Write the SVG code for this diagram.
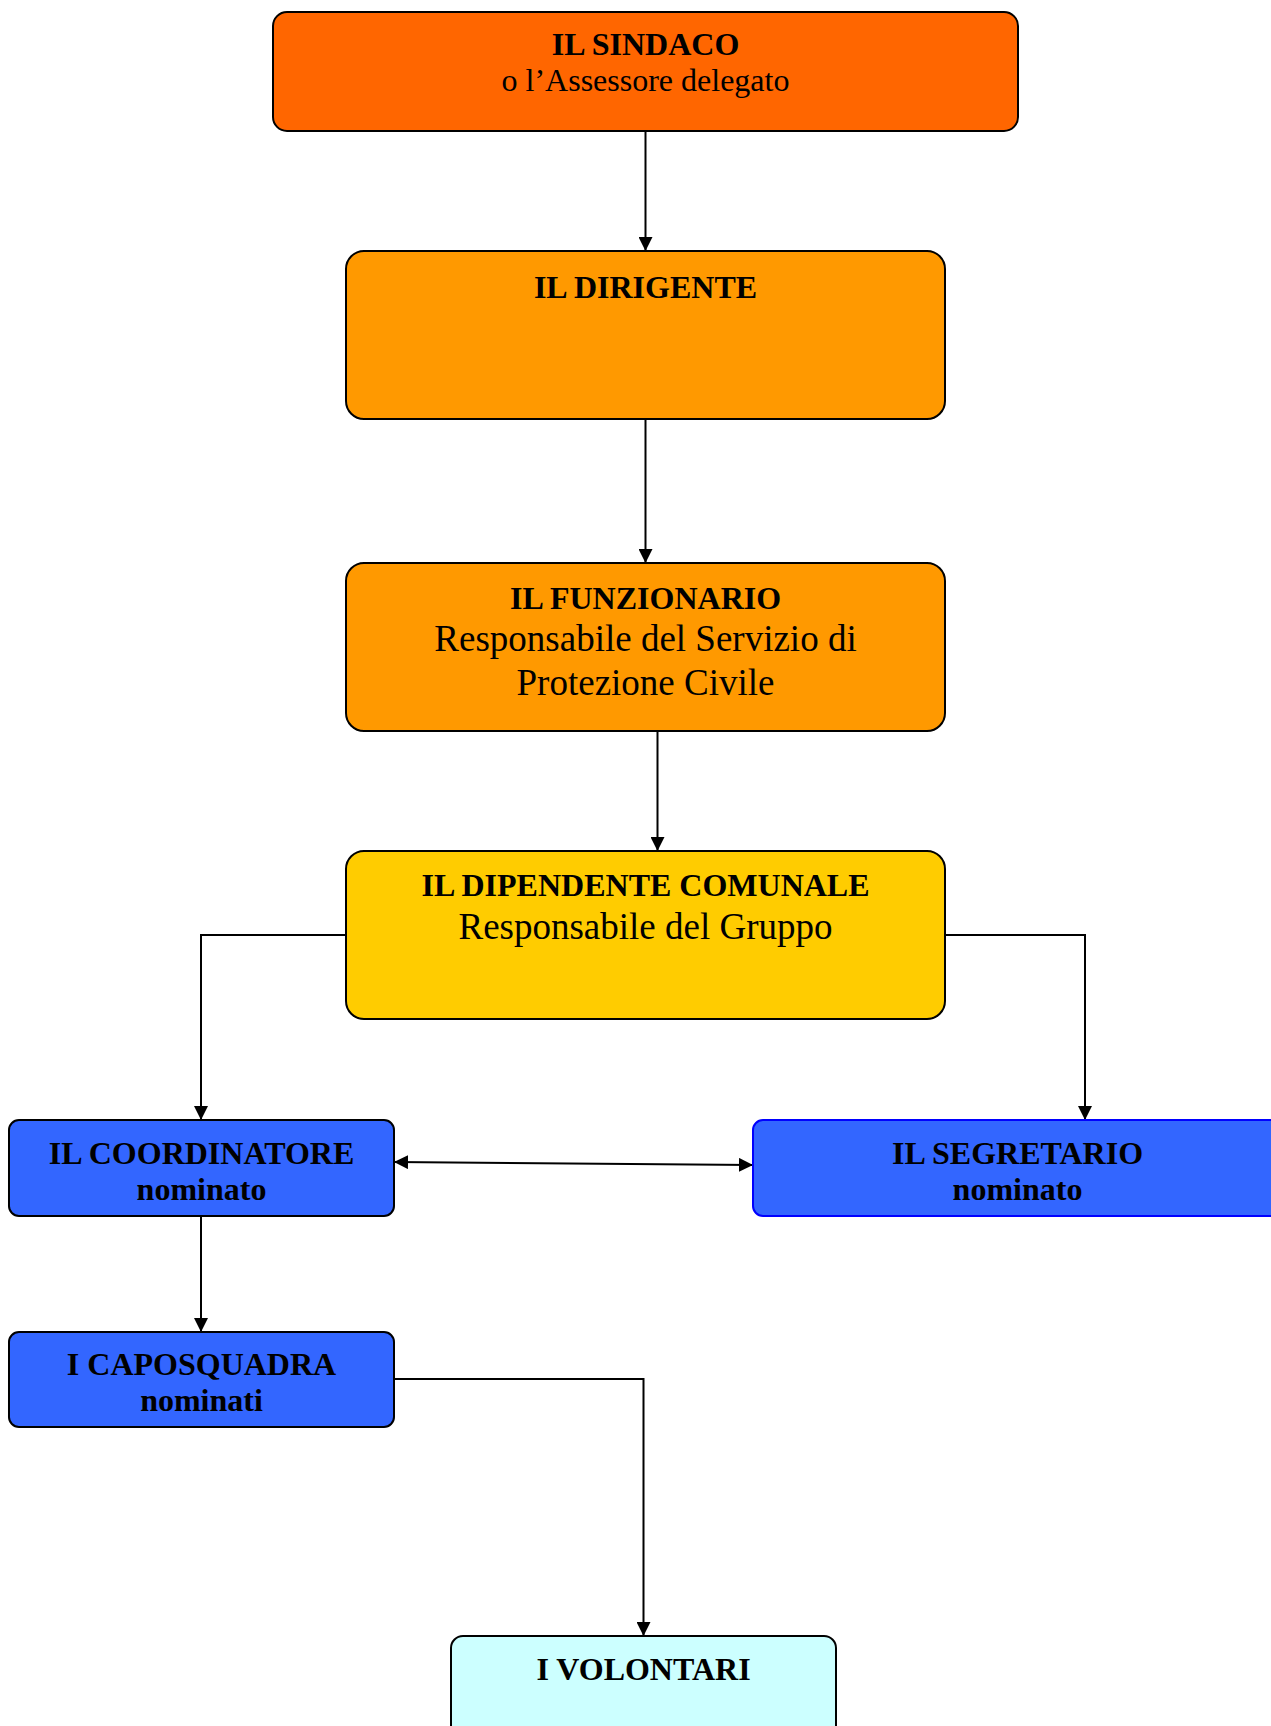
<svg xmlns="http://www.w3.org/2000/svg" width="1271" height="1726" viewBox="0 0 1271 1726">
<style>
.box{stroke:#000;stroke-width:2}
.t{font-family:"Liberation Serif","Times New Roman",serif;fill:#000;text-anchor:middle}
.b{font-weight:bold;font-size:32px}
.r{font-size:32px}
.r2{font-size:37px}
.c{fill:none;stroke:#000;stroke-width:2}
</style>
<defs>
<marker id="ah" viewBox="0 0 14 14" refX="14" refY="7" markerWidth="14" markerHeight="14" markerUnits="userSpaceOnUse" orient="auto-start-reverse">
<path d="M0,0 L14,7 L0,14 Z" fill="#000"/>
</marker>
</defs>
<rect width="1271" height="1726" fill="#fff"/>
<g id="connectors">
<line class="c" x1="645.5" y1="131" x2="645.5" y2="251" marker-end="url(#ah)"/>
<line class="c" x1="645.5" y1="419" x2="645.5" y2="563" marker-end="url(#ah)"/>
<line class="c" x1="657.5" y1="731" x2="657.5" y2="851" marker-end="url(#ah)"/>
<polyline class="c" points="346,935 201,935 201,1120" marker-end="url(#ah)"/>
<polyline class="c" points="945,935 1085,935 1085,1120" marker-end="url(#ah)"/>
<line class="c" x1="394" y1="1162" x2="753" y2="1165" marker-start="url(#ah)" marker-end="url(#ah)"/>
<line class="c" x1="201" y1="1216" x2="201" y2="1332" marker-end="url(#ah)"/>
<polyline class="c" points="394,1379 643.5,1379 643.5,1636" marker-end="url(#ah)"/>
</g>
<g id="sindaco">
<rect class="box" x="273" y="12" width="745" height="119" rx="14" fill="#FF6600"/>
<text class="t b" x="645.5" y="55">IL SINDACO</text>
<text class="t r" x="645.5" y="91">o l’Assessore delegato</text>
</g>
<g id="dirigente">
<rect class="box" x="346" y="251" width="599" height="168" rx="18" fill="#FF9900"/>
<text class="t b" x="645.5" y="298">IL DIRIGENTE</text>
</g>
<g id="funzionario">
<rect class="box" x="346" y="563" width="599" height="168" rx="18" fill="#FF9900"/>
<text class="t b" x="645.5" y="609">IL FUNZIONARIO</text>
<text class="t r2" x="645.5" y="651">Responsabile del Servizio di</text>
<text class="t r2" x="645.5" y="695">Protezione Civile</text>
</g>
<g id="dipendente">
<rect class="box" x="346" y="851" width="599" height="168" rx="18" fill="#FFCC00"/>
<text class="t b" x="645.5" y="896">IL DIPENDENTE COMUNALE</text>
<text class="t r2" x="645.5" y="939">Responsabile del Gruppo</text>
</g>
<g id="coordinatore">
<rect class="box" x="9" y="1120" width="385" height="96" rx="10" fill="#3366FF"/>
<text class="t b" x="201.5" y="1164">IL COORDINATORE</text>
<text class="t b" x="201.5" y="1200">nominato</text>
</g>
<g id="segretario">
<rect x="753" y="1120" width="530" height="96" rx="10" fill="#3366FF" stroke="#0000FF" stroke-width="2"/>
<text class="t b" x="1017.5" y="1164">IL SEGRETARIO</text>
<text class="t b" x="1017.5" y="1200">nominato</text>
</g>
<g id="caposquadra">
<rect class="box" x="9" y="1332" width="385" height="95" rx="10" fill="#3366FF"/>
<text class="t b" x="201.5" y="1375">I CAPOSQUADRA</text>
<text class="t b" x="201.5" y="1411">nominati</text>
</g>
<g id="volontari">
<rect class="box" x="451" y="1636" width="385" height="110" rx="12" fill="#CCFFFF"/>
<text class="t b" x="643.5" y="1680">I VOLONTARI</text>
</g>
</svg>
